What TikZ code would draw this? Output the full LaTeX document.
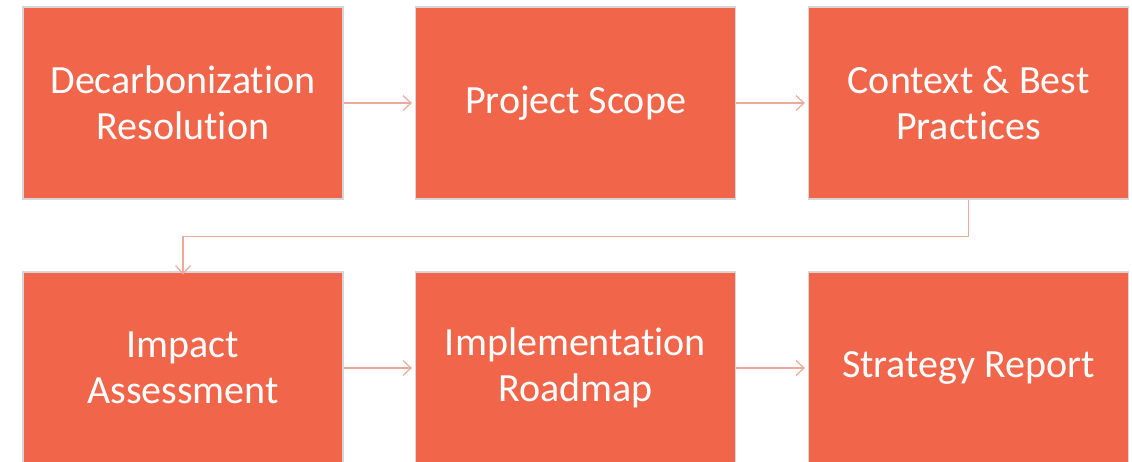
\documentclass[tikz,border=0pt]{standalone}
\usepackage{fontspec}
\setmainfont[Ligatures=NoCommon]{Carlito}
\usetikzlibrary{arrows.meta}
\definecolor{boxfill}{RGB}{241,102,74}
\definecolor{boxline}{RGB}{214,214,214}
\definecolor{arr}{RGB}{238,168,156}
\tikzset{
  stepbox/.style={draw=boxline, line width=1.2pt, fill=boxfill, minimum width=320pt, minimum height=192pt, inner sep=0pt, text=white, align=center, font=\fontsize{40}{46}\selectfont},
  conn/.style={draw=arr, line width=1.4pt, -{Straight Barb[length=8pt,width=15pt,line width=1.2pt]}}
}
\begin{document}
\begin{tikzpicture}[x=1pt,y=-1pt]
\useasboundingbox (0,0) rectangle (1132,462);
\clip (0,0) rectangle (1132,462);
\node[stepbox] (b1) at (183,103) {Decarbonization\\Resolution};
\node[stepbox] (b2) at (575.5,103) {\raisebox{-3pt}{Project Scope}};
\node[stepbox] (b3) at (968.5,103) {Context \& Best\\Practices};
\node[stepbox] (b4) at (183,368) {Impact\\Assessment};
\node[stepbox] (b5) at (575.5,368) {Implementation\\Roadmap};
\node[stepbox] (b6) at (968.5,368) {\raisebox{-4pt}{Strategy Report}};
\draw[conn] (b1.east) -- ([xshift=-3pt]b2.west);
\draw[conn] (b2.east) -- ([xshift=-3pt]b3.west);
\draw[conn] (b3.south) -- ++(0,37) -| ([yshift=-3pt]b4.north);
\draw[conn] (b4.east) -- ([xshift=-3pt]b5.west);
\draw[conn] (b5.east) -- ([xshift=-3pt]b6.west);
\end{tikzpicture}
\end{document}
